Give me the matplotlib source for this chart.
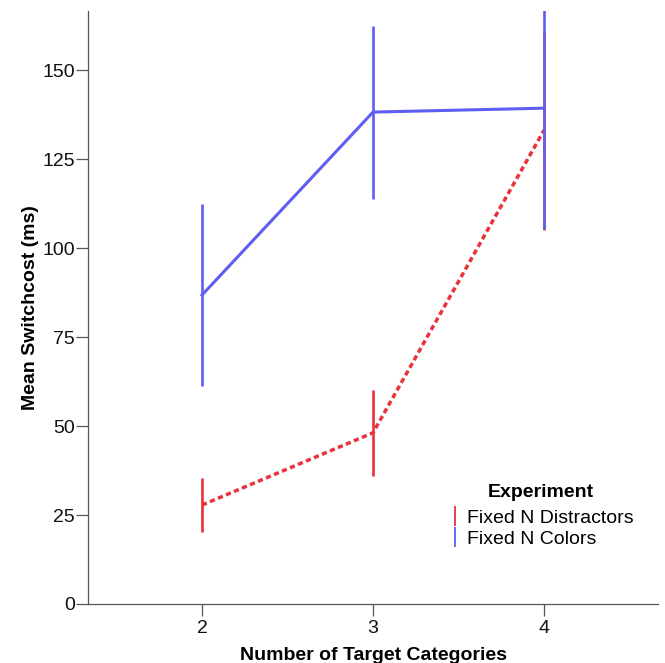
import matplotlib
matplotlib.use("Agg")
import matplotlib.pyplot as plt
from matplotlib.lines import Line2D

plt.rcParams['font.family'] = ['Liberation Sans', 'DejaVu Sans']

categories = [2, 3, 4]
series_names = ["Fixed N Distractors", "Fixed N Colors"]
distractors_mean = [27.8, 48.1, 133.1]
distractors_err = [7.7, 12.0, 28.0]
colors_mean = [86.8, 138.2, 139.3]
colors_err = [25.6, 24.3, 34.0]
yticks = [0, 25, 50, 75, 100, 125, 150]

red = '#e8323c'
blue = '#5e5ef2'

fig = plt.figure(figsize=(6.65, 6.63), dpi=100)
ax = fig.add_axes([88/665, 59/663, 570/665, 593/663])

# red: error bars then dotted line
ax.errorbar(categories, distractors_mean, yerr=distractors_err, color=red,
            linestyle='none', elinewidth=1.9, capsize=0, zorder=2)
ax.plot(categories, distractors_mean, color=red, lw=2.5,
        linestyle=(0, (1.5, 1.0)), dash_capstyle='butt', zorder=2)
# blue on top
ax.errorbar(categories, colors_mean, yerr=colors_err, color=blue,
            lw=2.2, elinewidth=1.9, capsize=0, zorder=3)

ax.set_xlim(4/3, 14/3)
ax.set_ylim(0, 166.6)
ax.set_xticks(categories)
ax.set_yticks(yticks)
for s in ['top', 'right']:
    ax.spines[s].set_visible(False)
for s in ['left', 'bottom']:
    ax.spines[s].set_color('#555555')
    ax.spines[s].set_linewidth(0.9)
ax.tick_params(axis='both', colors='#555555', labelcolor='#111111',
               labelsize=14, length=8.5, width=0.9, pad=1)
ax.tick_params(axis='x', pad=3)

ax.set_xlabel("Number of Target Categories", fontsize=14, fontweight='bold', labelpad=7)
ax.set_ylabel("Mean Switchcost (ms)", fontsize=14, fontweight='bold', labelpad=2)

handles = [Line2D([], [], color=red, marker='|', linestyle='None', markersize=15, markeredgewidth=1.3),
           Line2D([], [], color=blue, marker='|', linestyle='None', markersize=15, markeredgewidth=1.3)]
leg = ax.legend(handles, series_names, title="Experiment", loc='upper left',
                bbox_to_anchor=(0.62, 0.215), frameon=False, fontsize=14,
                title_fontproperties={'weight': 'bold', 'size': 14},
                handlelength=0.6, handletextpad=0.3, labelspacing=0.15,
                borderaxespad=0)
leg._legend_box.sep = 6

fig.savefig("out.png", dpi=100)
